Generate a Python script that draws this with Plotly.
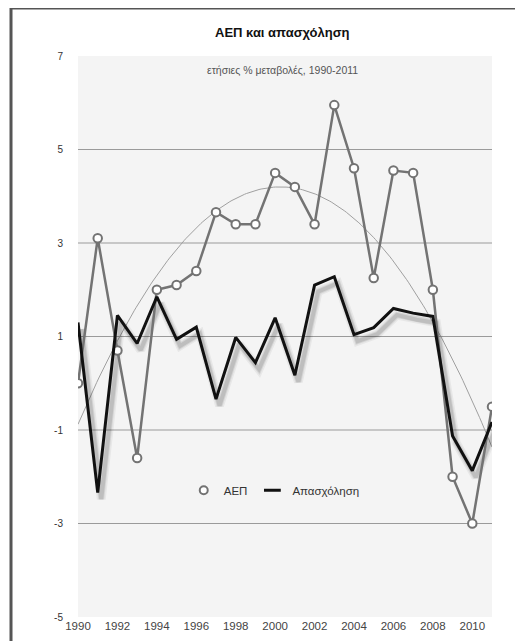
import numpy as np
import plotly.graph_objects as go

years = list(range(1990, 2012))
gdp = [0.0, 3.1, 0.7, -1.6, 2.0, 2.1, 2.4, 3.66, 3.4, 3.4, 4.5, 4.2, 3.4, 5.95,
       4.6, 2.25, 4.55, 4.5, 2.0, -2.0, -3.0, -0.5]
employment = [1.3, -2.34, 1.45, 0.85, 1.85, 0.94, 1.2, -0.34, 0.98, 0.44, 1.4, 0.17,
              2.1, 2.28, 1.04, 1.19, 1.6, 1.5, 1.43, -1.13, -1.87, -0.83]
y_ticks = [7, 5, 3, 1, -1, -3, -5]
grid_vals = [5, 3, 1, -1, -3]
x_ticks = list(range(1990, 2011, 2))

title = "ΑΕΠ και απασχόληση"
subtitle = "ετήσιες % μεταβολές, 1990-2011"

# polynomial trendline of GDP
coef = np.polyfit(np.array(years) - 2000, gdp, 2)
tx = np.linspace(1990, 2011, 200)
ty = np.polyval(coef, tx - 2000)

FONT = "Liberation Sans, Arial, sans-serif"
GDP_COL = "#737373"

fig = go.Figure()
fig.add_trace(go.Scatter(x=tx, y=ty, mode="lines",
                         line=dict(color="#a0a0a0", width=1), showlegend=False,
                         hoverinfo="skip"))
# soft shadow of employment line
for w, a in [(9, 0.05), (6, 0.08), (4, 0.10)]:
    fig.add_trace(go.Scatter(x=[v + 0.18 for v in years], y=[v - 0.14 for v in employment],
                             mode="lines", line=dict(color=f"rgba(0,0,0,{a})", width=w),
                             showlegend=False, hoverinfo="skip"))
fig.add_trace(go.Scatter(x=years, y=gdp, mode="lines+markers", name="ΑΕΠ",
                         line=dict(color=GDP_COL, width=2.5), showlegend=False,
                         marker=dict(symbol="circle", size=8.5, color="white",
                                     line=dict(color=GDP_COL, width=2))))
fig.add_trace(go.Scatter(x=years, y=employment, mode="lines", name="Απασχόληση",
                         line=dict(color="#111111", width=3), showlegend=False))
# legend entries
fig.add_trace(go.Scatter(x=[None], y=[None], mode="markers", name="ΑΕΠ",
                         marker=dict(symbol="circle", size=8, color="white",
                                     line=dict(color=GDP_COL, width=2))))
fig.add_trace(go.Scatter(x=[None], y=[None], mode="markers", name="Απασχόληση",
                         marker=dict(symbol="line-ew", size=12,
                                     line=dict(color="#111111", width=3))))

shapes = []
for g in grid_vals:
    shapes.append(dict(type="line", xref="paper", x0=0, x1=1, yref="y", y0=g, y1=g,
                       line=dict(color="#9a9a9a", width=1.2), layer="below"))
# outer frame
shapes.append(dict(type="rect", xref="paper", yref="paper",
                   x0=(11 - 78) / 414, x1=(540 - 78) / 414,
                   y0=(617 - 680) / 561, y1=(617 - 8) / 561,
                   line=dict(color="#555555", width=3), fillcolor="rgba(0,0,0,0)",
                   layer="below"))

fig.update_layout(
    width=515, height=633,
    margin=dict(l=70, r=31, t=48, b=24),
    paper_bgcolor="white", plot_bgcolor="#f4f4f4",
    font=dict(family=FONT, size=9, color="#333333"),
    shapes=shapes,
    showlegend=True,
    legend=dict(orientation="h", x=0.474, y=0.226, xanchor="center", yanchor="middle",
                bgcolor="rgba(0,0,0,0)", font=dict(size=11.5, color="#333333"),
                itemwidth=30, tracegroupgap=0),
    annotations=[
        dict(text="<b>" + title + "</b>", xref="paper", yref="paper", x=0.495,
             y=(617 - 33) / 561, showarrow=False, font=dict(size=13, color="#111111"),
             xanchor="center", yanchor="middle"),
        dict(text=subtitle, xref="paper", yref="paper", x=0.495, y=(617 - 70) / 561,
             showarrow=False, font=dict(size=10.5, color="#555555"),
             xanchor="center", yanchor="middle"),
    ],
    xaxis=dict(range=[1990, 2011], tickvals=x_ticks, ticktext=[str(v) for v in x_ticks],
               showgrid=False, zeroline=False, showline=False, ticks="",
               tickfont=dict(size=11.5, color="#444444"), automargin=False),
    yaxis=dict(range=[-5, 7], tickvals=y_ticks, ticktext=[str(v) for v in y_ticks],
               showgrid=False, zeroline=False, showline=False, ticks="",
               ticklabelstandoff=14, tickfont=dict(size=10, color="#333333"),
               automargin=False),
)

fig.write_html("out.html")
